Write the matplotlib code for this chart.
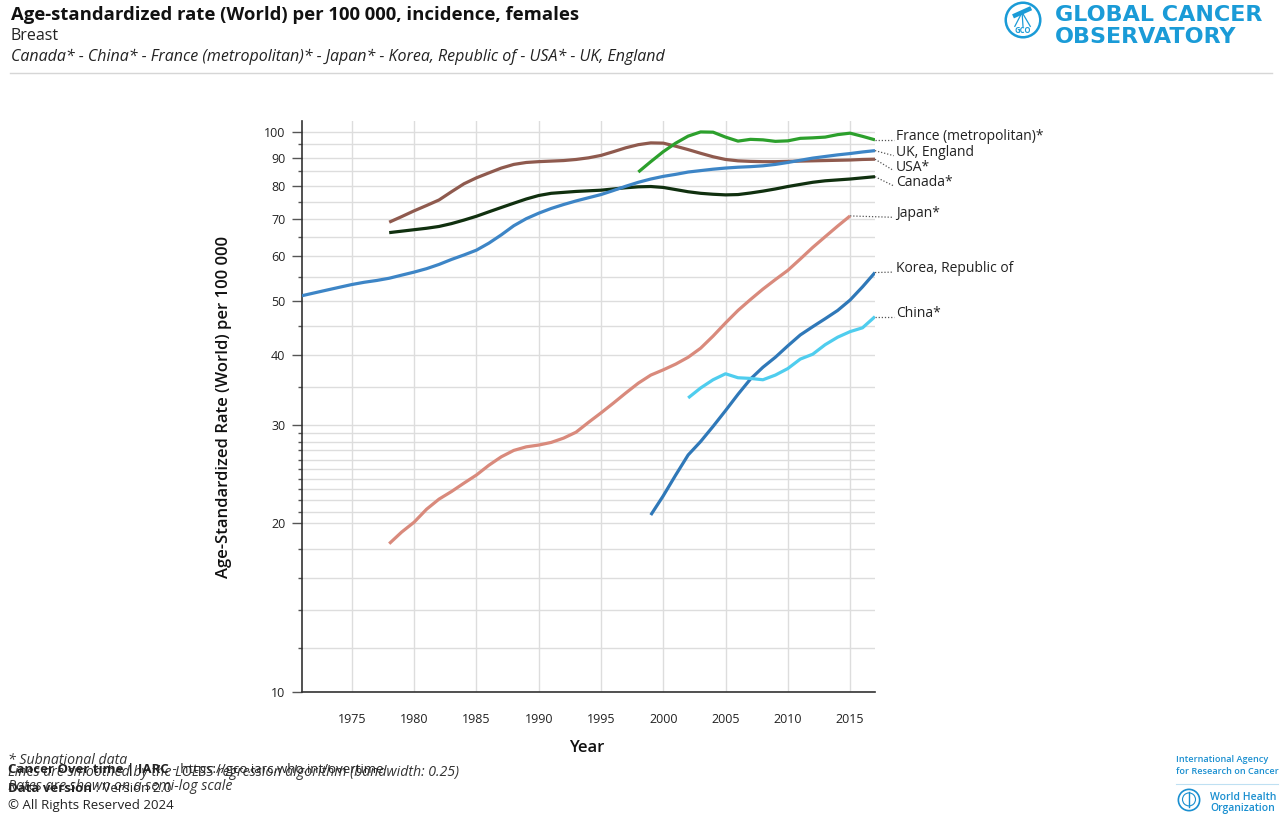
import matplotlib
matplotlib.use('Agg')
import matplotlib.pyplot as plt
import matplotlib.ticker as mticker
from matplotlib.patches import Circle

plt.rcParams['font.family'] = ['Open Sans', 'DejaVu Sans']

W, H = 1280, 818

# ---- data (ASR per 100 000, breast, females) ----
uk_years = list(range(1971, 2018))
uk_vals = [51.0, 51.6, 52.2, 52.8, 53.4, 53.9, 54.3, 54.8, 55.5, 56.2,
           57.0, 58.0, 59.2, 60.3, 61.5, 63.3, 65.5, 68.0, 70.0, 71.6,
           73.0, 74.2, 75.3, 76.3, 77.3, 78.6, 80.0, 81.3, 82.4, 83.3,
           84.0, 84.8, 85.3, 85.8, 86.2, 86.5, 86.7, 87.0, 87.5, 88.2,
           89.0, 89.8, 90.4, 91.0, 91.5, 92.1, 92.6]

usa_years = list(range(1978, 2018))
usa_vals = [69.0, 70.6, 72.3, 73.9, 75.6, 78.2, 80.8, 82.8, 84.5, 86.2,
            87.5, 88.2, 88.5, 88.7, 88.9, 89.3, 89.9, 90.8, 92.2, 93.7,
            94.9, 95.6, 95.5, 94.3, 93.0, 91.6, 90.3, 89.3, 88.8, 88.6,
            88.5, 88.5, 88.6, 88.7, 88.8, 88.9, 89.0, 89.1, 89.3, 89.4]

canada_years = list(range(1978, 2018))
canada_vals = [66.1, 66.5, 66.9, 67.3, 67.8, 68.6, 69.6, 70.7, 72.0, 73.3,
               74.6, 75.9, 77.0, 77.7, 78.0, 78.3, 78.5, 78.7, 79.1, 79.5,
               79.8, 79.9, 79.6, 78.9, 78.2, 77.7, 77.4, 77.2, 77.3, 77.8,
               78.4, 79.1, 79.9, 80.6, 81.3, 81.8, 82.1, 82.4, 82.8, 83.2]

france_years = list(range(1998, 2018))
france_vals = [84.8, 88.5, 92.2, 95.5, 98.3, 100.0, 99.9, 97.9, 96.3, 97.0,
               96.8, 96.2, 96.4, 97.4, 97.6, 97.9, 98.9, 99.5, 98.2, 96.8]

japan_years = list(range(1978, 2016))
japan_vals = [18.4, 19.3, 20.1, 21.2, 22.1, 22.8, 23.6, 24.4, 25.4, 26.3,
              27.0, 27.4, 27.6, 27.9, 28.4, 29.1, 30.3, 31.5, 32.8, 34.2,
              35.6, 36.8, 37.6, 38.5, 39.6, 41.1, 43.2, 45.6, 48.0, 50.2,
              52.4, 54.5, 56.6, 59.3, 62.2, 65.0, 67.9, 70.8]

korea_years = list(range(1999, 2018))
korea_vals = [20.7, 22.4, 24.4, 26.5, 28.0, 29.8, 31.8, 34.0, 36.2, 38.0,
              39.6, 41.5, 43.4, 44.9, 46.4, 48.0, 50.1, 52.9, 56.1]

china_years = list(range(2002, 2018))
china_vals = [33.5, 34.9, 36.1, 37.0, 36.4, 36.3, 36.1, 36.8, 37.8, 39.3,
              40.1, 41.7, 43.0, 44.0, 44.7, 46.8]

# name, years, values, colour, where the leader line ends (value)
series = [
    ('USA*', usa_years, usa_vals, '#8f5a4e', 85.3),
    ('Canada*', canada_years, canada_vals, '#10300f', 80.1),
    ('UK, England', uk_years, uk_vals, '#3d85c6', 90.7),
    ('France (metropolitan)*', france_years, france_vals, '#2ca02c', 96.8),
    ('Japan*', japan_years, japan_vals, '#d98a7c', 70.4),
    ('Korea, Republic of', korea_years, korea_vals, '#2f78b8', 56.2),
    ('China*', china_years, china_vals, '#4fcdee', 46.8),
]

major_y = [10, 20, 30, 40, 50, 60, 70, 80, 90, 100]
minor_y = [12, 14, 16, 18, 21, 22, 23, 24, 25, 26, 27, 28, 29,
           35, 45, 55, 65, 75, 85, 95]
x_ticks = list(range(1975, 2016, 5))

fig = plt.figure(figsize=(W / 100, H / 100), dpi=100)

def fx(px):
    return px / W

def fy(py):
    return 1 - py / H

# ---- header ----
fig.text(fx(11), fy(15), 'Age-standardized rate (World) per 100 000, incidence, females',
         fontsize=13.3, fontweight='bold', color='#111111', va='center')
fig.text(fx(11), fy(36), 'Breast', fontsize=11.5, color='#222222', va='center')
fig.text(fx(11), fy(57), 'Canada* - China* - France (metropolitan)* - Japan* - Korea, Republic of - USA* - UK, England',
         fontsize=11.5, style='italic', color='#222222', va='center')
fig.add_artist(plt.Line2D([fx(10), fx(1272)], [fy(73), fy(73)], color='#d6d6d6', lw=1))

# GCO logo
gco_blue = '#1a9bd7'
lax = fig.add_axes([fx(1003), fy(40), fx(40), 40 / H])
lax.set_xlim(-1.1, 1.1)
lax.set_ylim(-1.1, 1.1)
lax.set_aspect('equal')
lax.axis('off')
lax.add_patch(Circle((0, 0), 0.95, fill=False, ec=gco_blue, lw=1.8))
lax.plot([-0.55, 0.45], [0.2, 0.65], color=gco_blue, lw=3.2, solid_capstyle='butt')
lax.plot([-0.05, -0.45], [0.42, -0.35], color=gco_blue, lw=0.9)
lax.plot([-0.05, 0.0], [0.42, -0.35], color=gco_blue, lw=0.9)
lax.plot([-0.05, 0.4], [0.42, -0.35], color=gco_blue, lw=0.9)
lax.text(0, -0.58, 'GCO', ha='center', va='center', fontsize=5.5, fontweight='bold', color=gco_blue)
fig.text(fx(1055), fy(15), 'GLOBAL CANCER', fontsize=16, fontweight='heavy', color=gco_blue,
         va='center', family='DejaVu Sans')
fig.text(fx(1055), fy(37), 'OBSERVATORY', fontsize=16, fontweight='heavy', color=gco_blue,
         va='center', family='DejaVu Sans')

# ---- main axes ----
ax = fig.add_axes([fx(302), fy(692), fx(875) - fx(302), (692 - 121) / H])
ax.set_yscale('log')
ax.set_xlim(1971, 2017)
ax.set_ylim(10, 104.6)

for name, yrs, vals, col, lead_y in series:
    ax.plot(yrs, vals, color=col, lw=2.3, solid_capstyle='butt', zorder=3)
    ax.plot([yrs[-1], 2018.5], [vals[-1], lead_y], color='#555555', lw=0.9,
            ls=(0, (1, 1.5)), clip_on=False, zorder=2)
    ax.annotate(name, xy=(2018.55, lead_y), xytext=(1, 0), textcoords='offset points',
                fontsize=10, color='#222222', va='baseline', ha='left',
                annotation_clip=False)

ax.yaxis.set_major_locator(mticker.FixedLocator(major_y))
ax.yaxis.set_minor_locator(mticker.FixedLocator(minor_y))
ax.yaxis.set_major_formatter(mticker.FixedFormatter([str(v) for v in major_y]))
ax.yaxis.set_minor_formatter(mticker.NullFormatter())
ax.set_xticks(x_ticks)
ax.set_xticklabels([str(v) for v in x_ticks])
ax.xaxis.set_minor_locator(mticker.NullLocator())

ax.grid(True, axis='y', which='both', color='#dddddd', lw=1, zorder=0)
ax.grid(True, axis='x', which='major', color='#dddddd', lw=1, zorder=0)
ax.set_axisbelow(True)

for s in ['top', 'right']:
    ax.spines[s].set_visible(False)
for s in ['left', 'bottom']:
    ax.spines[s].set_color('#333333')
    ax.spines[s].set_linewidth(1.2)

ax.tick_params(axis='y', which='major', length=7, width=1, color='#555555',
               labelsize=9, labelcolor='#222222', pad=5)
ax.tick_params(axis='y', which='minor', length=3, width=1, color='#555555')
ax.tick_params(axis='x', which='major', length=0, labelsize=9, labelcolor='#222222', pad=15)

fig.text(fx(224), fy(407), 'Age-Standardized Rate (World) per 100 000', rotation=90,
         fontsize=12, fontweight='semibold', color='#111111', ha='center', va='center')
fig.text(fx(587), fy(748), 'Year', fontsize=12, fontweight='semibold', color='#111111',
         ha='center', va='center')

# ---- footer (texts overlap in the original) ----
foot = 9.5
foot_it = 10.2
fig.text(fx(8), fy(761), '* Subnational data', fontsize=foot_it, style='italic', color='#333333', va='center')
fig.text(fx(8), fy(773), 'Lines are smoothed by the LOESS regression algorithm (bandwidth: 0.25)',
         fontsize=foot_it, style='italic', color='#333333', va='center')
fig.text(fx(8), fy(787), 'Rates are shown on a semi-log scale', fontsize=foot_it, style='italic',
         color='#333333', va='center')
renderer = fig.canvas.get_renderer()
t1 = fig.text(fx(8), fy(770), 'Cancer Over time | IARC', fontsize=foot, fontweight='bold',
              color='#222222', va='center')
x1 = t1.get_window_extent(renderer).x1 / W
fig.text(x1, fy(770), ' - https://gco.iarc.who.int/overtime', fontsize=foot, color='#222222', va='center')
t2 = fig.text(fx(8), fy(788), 'Data version', fontsize=foot, fontweight='bold', color='#222222', va='center')
x2 = t2.get_window_extent(renderer).x1 / W
fig.text(x2, fy(788), ' : Version 2.0', fontsize=foot, color='#222222', va='center')
fig.text(fx(8), fy(806), '\u00a9 All Rights Reserved 2024', fontsize=foot, color='#222222', va='center')

# IARC / WHO block
iarc_blue = '#1a8fd0'
fig.text(fx(1176), fy(760), 'International Agency', fontsize=6.6, fontweight='semibold',
         color=iarc_blue, va='center')
fig.text(fx(1176), fy(772), 'for Research on Cancer', fontsize=6.6, fontweight='semibold',
         color=iarc_blue, va='center')
fig.add_artist(plt.Line2D([fx(1176), fx(1278)], [fy(784), fy(784)], color='#bfe0f2', lw=0.8))
wax = fig.add_axes([fx(1176), fy(813), fx(26), 26 / H])
wax.set_xlim(-1.1, 1.1)
wax.set_ylim(-1.1, 1.1)
wax.set_aspect('equal')
wax.axis('off')
wax.add_patch(Circle((0, 0), 0.9, fill=False, ec=iarc_blue, lw=1.2))
wax.add_patch(Circle((0, 0.05), 0.55, fill=False, ec=iarc_blue, lw=0.8))
wax.plot([0, 0], [-0.6, 0.7], color=iarc_blue, lw=1)
fig.text(fx(1210), fy(797), 'World Health', fontsize=7.5, fontweight='semibold',
         color=iarc_blue, va='center')
fig.text(fx(1210), fy(808), 'Organization', fontsize=7.5, fontweight='semibold',
         color=iarc_blue, va='center')

fig.savefig('out.png', dpi=100)
